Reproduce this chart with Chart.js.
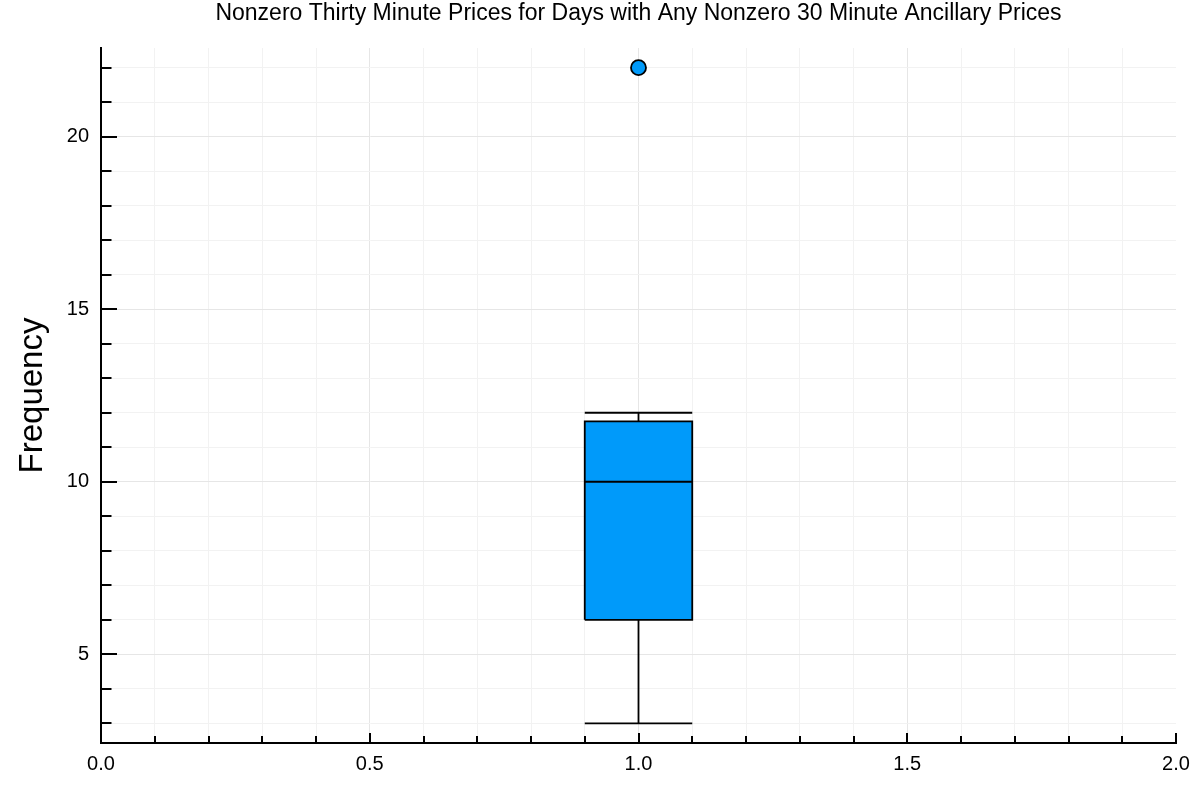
<!DOCTYPE html>
<html>
<head>
<meta charset="utf-8">
<script src="https://cdn.jsdelivr.net/npm/chart.js@4.4.1/dist/chart.umd.min.js"></script>
<style>
  html, body { margin: 0; padding: 0; background: #fff; }
  #wrap { width: 1200px; height: 800px; }
</style>
</head>
<body>
<div id="wrap"><canvas id="c" width="1200" height="800"></canvas></div>
<script>
// ---- data ----
const positions = [1];
const boxHalfWidth = [0.1];
const whiskerLow = [3];
const q1 = [6];
const median = [10];
const q3 = [11.75];
const whiskerHigh = [12];
const outliers = [[22]];

const xTicks = [0, 0.1, 0.2, 0.3, 0.4, 0.5, 0.6, 0.7, 0.8, 0.9, 1.0, 1.1, 1.2, 1.3, 1.4, 1.5, 1.6, 1.7, 1.8, 1.9, 2.0];
const xMajor = [0, 0.5, 1.0, 1.5, 2.0];
const yTicks = [3,4,5,6,7,8,9,10,11,12,13,14,15,16,17,18,19,20,21,22];
const yMajor = [5, 10, 15, 20];
const xRange = [0, 2];
const yRange = [2.43, 22.57];

const titleText = 'Nonzero Thirty Minute Prices for Days with Any Nonzero 30 Minute Ancillary Prices';
const yLabel = 'Frequency';

// ---- styles ----
const FILL = '#009AFA';
const LINE = '#000000';
const LW = 1.8;
const FONT = "'Liberation Sans', Arial, Helvetica, sans-serif";

function isMajor(list, v) { return list.some(m => Math.abs(m - v) < 1e-9); }

const datasets = [];
positions.forEach((p, i) => {
  const l = p - boxHalfWidth[i], r = p + boxHalfWidth[i];
  // box fill
  datasets.push({ data: [{x: l, y: q3[i]}, {x: r, y: q3[i]}], showLine: true, fill: {value: q1[i]},
    backgroundColor: FILL, borderWidth: 0, pointRadius: 0, order: 5 });
  const seg = (pts) => datasets.push({ data: pts, showLine: true, fill: false, borderColor: LINE,
    borderWidth: LW, pointRadius: 0, order: 4 });
  // box outline
  seg([{x: l, y: q1[i]}, {x: r, y: q1[i]}, {x: r, y: q3[i]}, {x: l, y: q3[i]}, {x: l, y: q1[i]}]);
  // median
  seg([{x: l, y: median[i]}, {x: r, y: median[i]}]);
  // whiskers
  seg([{x: p, y: q3[i]}, {x: p, y: whiskerHigh[i]}]);
  seg([{x: l, y: whiskerHigh[i]}, {x: r, y: whiskerHigh[i]}]);
  seg([{x: p, y: q1[i]}, {x: p, y: whiskerLow[i]}]);
  seg([{x: l, y: whiskerLow[i]}, {x: r, y: whiskerLow[i]}]);
  // outliers
  datasets.push({ data: outliers[i].map(v => ({x: p, y: v})), showLine: false,
    pointRadius: 7.5, pointBackgroundColor: FILL, pointBorderColor: LINE, pointBorderWidth: 1.8, order: 1 });
});

const innerTicks = {
  id: 'innerTicks',
  afterDatasetsDraw(chart) {
    const ctx = chart.ctx, a = chart.chartArea;
    const xs = chart.scales.x, ys = chart.scales.y;
    ctx.save();
    ctx.strokeStyle = '#000';
    ctx.lineWidth = 2;
    ctx.beginPath();
    xTicks.forEach(v => {
      const px = Math.round(xs.getPixelForValue(v));
      const len = isMajor(xMajor, v) ? 10 : 7;
      ctx.moveTo(px, a.bottom); ctx.lineTo(px, a.bottom - len);
    });
    yTicks.forEach(v => {
      const py = Math.round(ys.getPixelForValue(v));
      const len = isMajor(yMajor, v) ? 16 : 10.5;
      ctx.moveTo(a.left, py); ctx.lineTo(a.left + len, py);
    });
    ctx.stroke();
    ctx.restore();
  }
};

new Chart(document.getElementById('c'), {
  type: 'scatter',
  data: { datasets },
  options: {
    responsive: false,
    animation: false,
    devicePixelRatio: 1,
    layout: { padding: { left: 0, right: 24, top: 0, bottom: 0 } },
    plugins: {
      legend: { display: false },
      tooltip: { enabled: false },
      title: {
        display: true, text: titleText, fullSize: false, color: '#000',
        font: { family: FONT, size: 23, weight: 'normal', lineHeight: 1.2 },
        padding: { top: 0, bottom: 20.4 }
      }
    },
    scales: {
      x: {
        type: 'linear', min: xRange[0], max: xRange[1],
        afterBuildTicks: (s) => { s.ticks = xTicks.map(v => ({value: v})); },
        afterFit: (s) => { s.height = 57; },
        ticks: {
          autoSkip: false, maxRotation: 0, padding: 9, color: '#000',
          font: { family: FONT, size: 20 },
          callback: (v) => isMajor(xMajor, v) ? Number(v).toFixed(1) : ''
        },
        grid: {
          drawTicks: false,
          color: (c) => (c.tick && Math.abs(c.tick.value - xRange[1]) < 1e-9) ? 'rgba(0,0,0,0)' :
            (c.tick && isMajor(xMajor, c.tick.value) ? '#e6e6e6' : '#f2f2f2'),
          lineWidth: 1
        },
        border: { display: true, color: '#000', width: 2 }
      },
      y: {
        type: 'linear', min: yRange[0], max: yRange[1],
        afterBuildTicks: (s) => { s.ticks = yTicks.map(v => ({value: v})); },
        afterFit: (s) => { s.width = 101; },
        title: {
          display: true, text: yLabel, color: '#000',
          font: { family: FONT, size: 33, lineHeight: 1.2 },
          padding: { top: 13, bottom: 0 }
        },
        ticks: {
          autoSkip: false, padding: 12, color: '#000',
          font: { family: FONT, size: 20 },
          callback: (v) => isMajor(yMajor, v) ? String(v) : ''
        },
        grid: {
          drawTicks: false,
          color: (c) => (c.tick && isMajor(yMajor, c.tick.value)) ? '#e6e6e6' : '#f2f2f2',
          lineWidth: 1
        },
        border: { display: true, color: '#000', width: 2 }
      }
    }
  },
  plugins: [innerTicks]
});
</script>
</body>
</html>
